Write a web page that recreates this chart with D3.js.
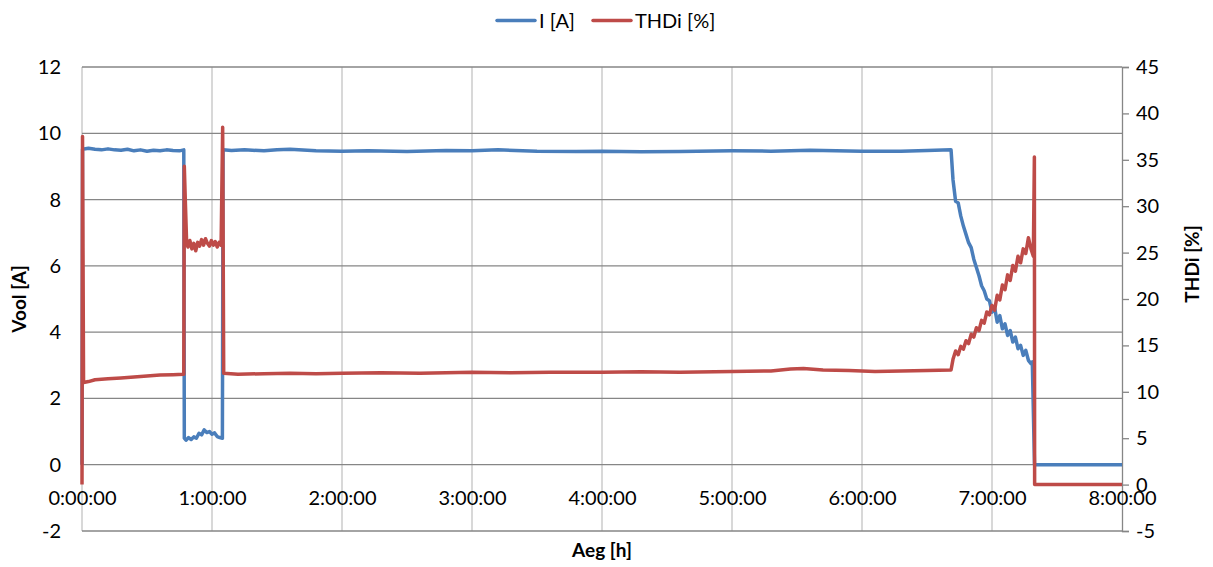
<!DOCTYPE html>
<html>
<head>
<meta charset="utf-8">
<script src="https://cdn.jsdelivr.net/npm/d3@7"></script>
<style>
  html, body { margin: 0; padding: 0; background: #fff; }
  svg { display: block; font-family: Lato, "Open Sans", sans-serif; }
</style>
</head>
<body>
<svg id="chart" width="1213" height="567"></svg>
<script>
// ---- data (time in hours) ----
const xTickValues = [0, 1, 2, 3, 4, 5, 6, 7, 8];
const xTickLabels = ["0:00:00", "1:00:00", "2:00:00", "3:00:00", "4:00:00", "5:00:00", "6:00:00", "7:00:00", "8:00:00"];
const leftTicks = [-2, 0, 2, 4, 6, 8, 10, 12];
const rightTicks = [-5, 0, 5, 10, 15, 20, 25, 30, 35, 40, 45];
const seriesNames = ["I [A]", "THDi [%]"];

const iTime = [0, 0.004, 0.05, 0.1, 0.15, 0.2, 0.25, 0.3, 0.35, 0.4, 0.45, 0.5, 0.55, 0.6, 0.65, 0.7, 0.75, 0.783,
  0.787, 0.8, 0.82, 0.84, 0.86, 0.88, 0.9, 0.92, 0.94, 0.96, 0.98, 1.0, 1.02, 1.04, 1.06, 1.08,
  1.085, 1.15, 1.25, 1.4, 1.5, 1.6, 1.8, 2.0, 2.2, 2.5, 2.8, 3.0, 3.2, 3.5, 3.8, 4.0, 4.3, 4.6, 5.0, 5.3, 5.6, 6.0, 6.3, 6.5, 6.685,
  6.7, 6.72, 6.74, 6.76, 6.78, 6.8, 6.82, 6.84, 6.86, 6.88, 6.9, 6.92, 6.94, 6.96, 6.98, 7.0, 7.02, 7.04, 7.06, 7.08, 7.1,
  7.12, 7.14, 7.16, 7.18, 7.2, 7.22, 7.24, 7.26, 7.28, 7.3, 7.31, 7.327, 7.5, 7.8, 8.0];
const iValues = [0, 9.52, 9.55, 9.52, 9.5, 9.53, 9.5, 9.49, 9.52, 9.47, 9.5, 9.46, 9.49, 9.47, 9.5, 9.48, 9.47, 9.5,
  0.8, 0.74, 0.82, 0.76, 0.84, 0.8, 0.95, 0.9, 1.05, 0.97, 1.0, 0.92, 0.96, 0.85, 0.82, 0.8,
  9.5, 9.48, 9.5, 9.47, 9.5, 9.52, 9.47, 9.46, 9.47, 9.45, 9.48, 9.47, 9.5, 9.46, 9.45, 9.46, 9.44, 9.45, 9.47, 9.46, 9.49, 9.46, 9.46, 9.48, 9.5,
  8.6, 7.95, 7.9, 7.5, 7.2, 6.95, 6.7, 6.55, 6.2, 5.95, 5.7, 5.4, 5.25, 5.0, 4.95, 4.6, 4.75, 4.3, 4.5, 4.1, 4.25,
  3.9, 4.05, 3.7, 3.85, 3.5, 3.6, 3.3, 3.45, 3.15, 3.05, 3.1, 0.0, 0.0, 0.0, 0.0];

const thdTime = [0, 0.004, 0.012, 0.05, 0.1, 0.2, 0.3, 0.4, 0.5, 0.6, 0.7, 0.783,
  0.787, 0.795, 0.805, 0.815, 0.83, 0.845, 0.86, 0.875, 0.89, 0.905, 0.92, 0.935, 0.95, 0.965, 0.98, 0.995, 1.01, 1.025, 1.04, 1.055, 1.07,
  1.082, 1.09, 1.2, 1.4, 1.6, 1.8, 2.0, 2.3, 2.6, 3.0, 3.3, 3.6, 4.0, 4.3, 4.6, 5.0, 5.3, 5.45, 5.55, 5.7, 5.9, 6.1, 6.3, 6.5, 6.685,
  6.7, 6.72, 6.74, 6.76, 6.78, 6.8, 6.82, 6.84, 6.86, 6.88, 6.9, 6.92, 6.94, 6.96, 6.98, 7.0, 7.02, 7.04, 7.06, 7.08, 7.1,
  7.12, 7.14, 7.16, 7.18, 7.2, 7.22, 7.24, 7.26, 7.28, 7.3, 7.318, 7.326, 7.328, 7.5, 7.8, 8.0];
const thdValues = [0, 37.5, 11.0, 11.1, 11.3, 11.4, 11.5, 11.6, 11.7, 11.8, 11.85, 11.9,
  34.3, 30.5, 26.0, 25.6, 26.3, 25.4, 26.0, 25.2, 26.1, 25.7, 26.4, 25.8, 26.5, 26.0, 25.7, 26.3, 25.8, 26.2, 25.6, 26.1, 25.8,
  38.5, 12.0, 11.9, 11.95, 12.0, 11.95, 12.0, 12.05, 12.0, 12.1, 12.05, 12.1, 12.1, 12.15, 12.1, 12.2, 12.25, 12.45, 12.5, 12.35, 12.3, 12.2, 12.25, 12.3, 12.35,
  13.5, 14.4, 14.0, 14.9, 14.6, 15.5, 15.2, 16.2, 15.9, 16.9, 16.6, 17.7, 17.4, 18.6, 18.3, 19.3, 18.8, 20.4, 19.9, 21.5, 21.0,
  22.6, 22.0, 23.6, 23.0, 24.6, 23.9, 25.4, 24.9, 26.6, 25.4, 24.6, 35.3, 0.0, 0.0, 0.0, 0.0];

// ---- layout ----
const svg = d3.select("#chart");
const x = d3.scaleLinear().domain([0, 8]).range([82, 1122]);
const yL = d3.scaleLinear().domain([-2, 12]).range([531, 67]);
const yR = d3.scaleLinear().domain([-5, 45]).range([531, 67]);
const blue = "#4a7ebb", red = "#be4b48";

// vertical gridlines
svg.append("g").selectAll("line").data(xTickValues.slice(0, -1)).join("line")
  .attr("x1", d => x(d)).attr("x2", d => x(d))
  .attr("y1", yL(12)).attr("y2", yL(-2))
  .attr("stroke", "#c3c3c3").attr("stroke-width", 1.3);

// horizontal gridlines
svg.append("g").selectAll("line").data(leftTicks).join("line")
  .attr("x1", x(0)).attr("x2", x(8))
  .attr("y1", d => yL(d)).attr("y2", d => yL(d))
  .attr("stroke", "#868686").attr("stroke-width", 1.3);

// left tick labels
svg.append("g").selectAll("text").data(leftTicks).join("text")
  .attr("x", 61).attr("y", d => yL(d)).attr("dy", "0.35em")
  .attr("text-anchor", "end").attr("font-size", 20).attr("fill", "#000")
  .text(d => d);

// right axis
const rAxis = svg.append("g").attr("transform", `translate(${x(8)},0)`)
  .call(d3.axisRight(yR).tickValues(rightTicks).tickSize(7).tickPadding(7).tickFormat(d => d));
rAxis.select(".domain").attr("stroke", "#868686").attr("stroke-width", 1.3);
rAxis.selectAll(".tick line").attr("stroke", "#868686").attr("stroke-width", 1.3);
rAxis.selectAll(".tick text").attr("font-size", 20).attr("fill", "#000").attr("font-family", "Lato, 'Open Sans', sans-serif");

// x axis labels at left-axis zero
const xAxis = svg.append("g").attr("transform", `translate(0,${yL(0)})`)
  .call(d3.axisBottom(x).tickValues(xTickValues).tickSize(0).tickPadding(26).tickFormat((d, i) => xTickLabels[i]));
xAxis.select(".domain").remove();
xAxis.selectAll(".tick text").attr("font-size", 20).attr("fill", "#000").attr("font-family", "Lato, 'Open Sans', sans-serif");

// series lines
const lineI = d3.line().x((d, i) => x(iTime[i])).y(d => yL(d));
const lineT = d3.line().x((d, i) => x(thdTime[i])).y(d => yR(d));
svg.append("path").datum(iValues).attr("d", lineI)
  .attr("fill", "none").attr("stroke", blue).attr("stroke-width", 3.5).attr("stroke-linejoin", "round");
svg.append("path").datum(thdValues).attr("d", lineT)
  .attr("fill", "none").attr("stroke", red).attr("stroke-width", 3.5).attr("stroke-linejoin", "round");

// axis titles
svg.append("text").attr("transform", "translate(26,299) rotate(-90)")
  .attr("text-anchor", "middle").attr("font-size", 19).attr("font-weight", "bold").text("Vool [A]");
svg.append("text").attr("transform", "translate(1199,264) rotate(-90)")
  .attr("text-anchor", "middle").attr("font-size", 19).attr("font-weight", "bold").text("THDi [%]");
svg.append("text").attr("x", 602).attr("y", 557)
  .attr("text-anchor", "middle").attr("font-size", 19).attr("font-weight", "bold").text("Aeg [h]");

// legend
const legend = svg.append("g");
const legendItems = [{ name: seriesNames[0], color: blue, x: 497 }, { name: seriesNames[1], color: red, x: 593 }];
legendItems.forEach(it => {
  legend.append("line").attr("x1", it.x).attr("x2", it.x + 38).attr("y1", 20.5).attr("y2", 20.5)
    .attr("stroke", it.color).attr("stroke-width", 3.5).attr("stroke-linecap", "round");
  legend.append("text").attr("x", it.x + 42).attr("y", 28).attr("font-size", 20).text(it.name);
});
</script>
</body>
</html>
